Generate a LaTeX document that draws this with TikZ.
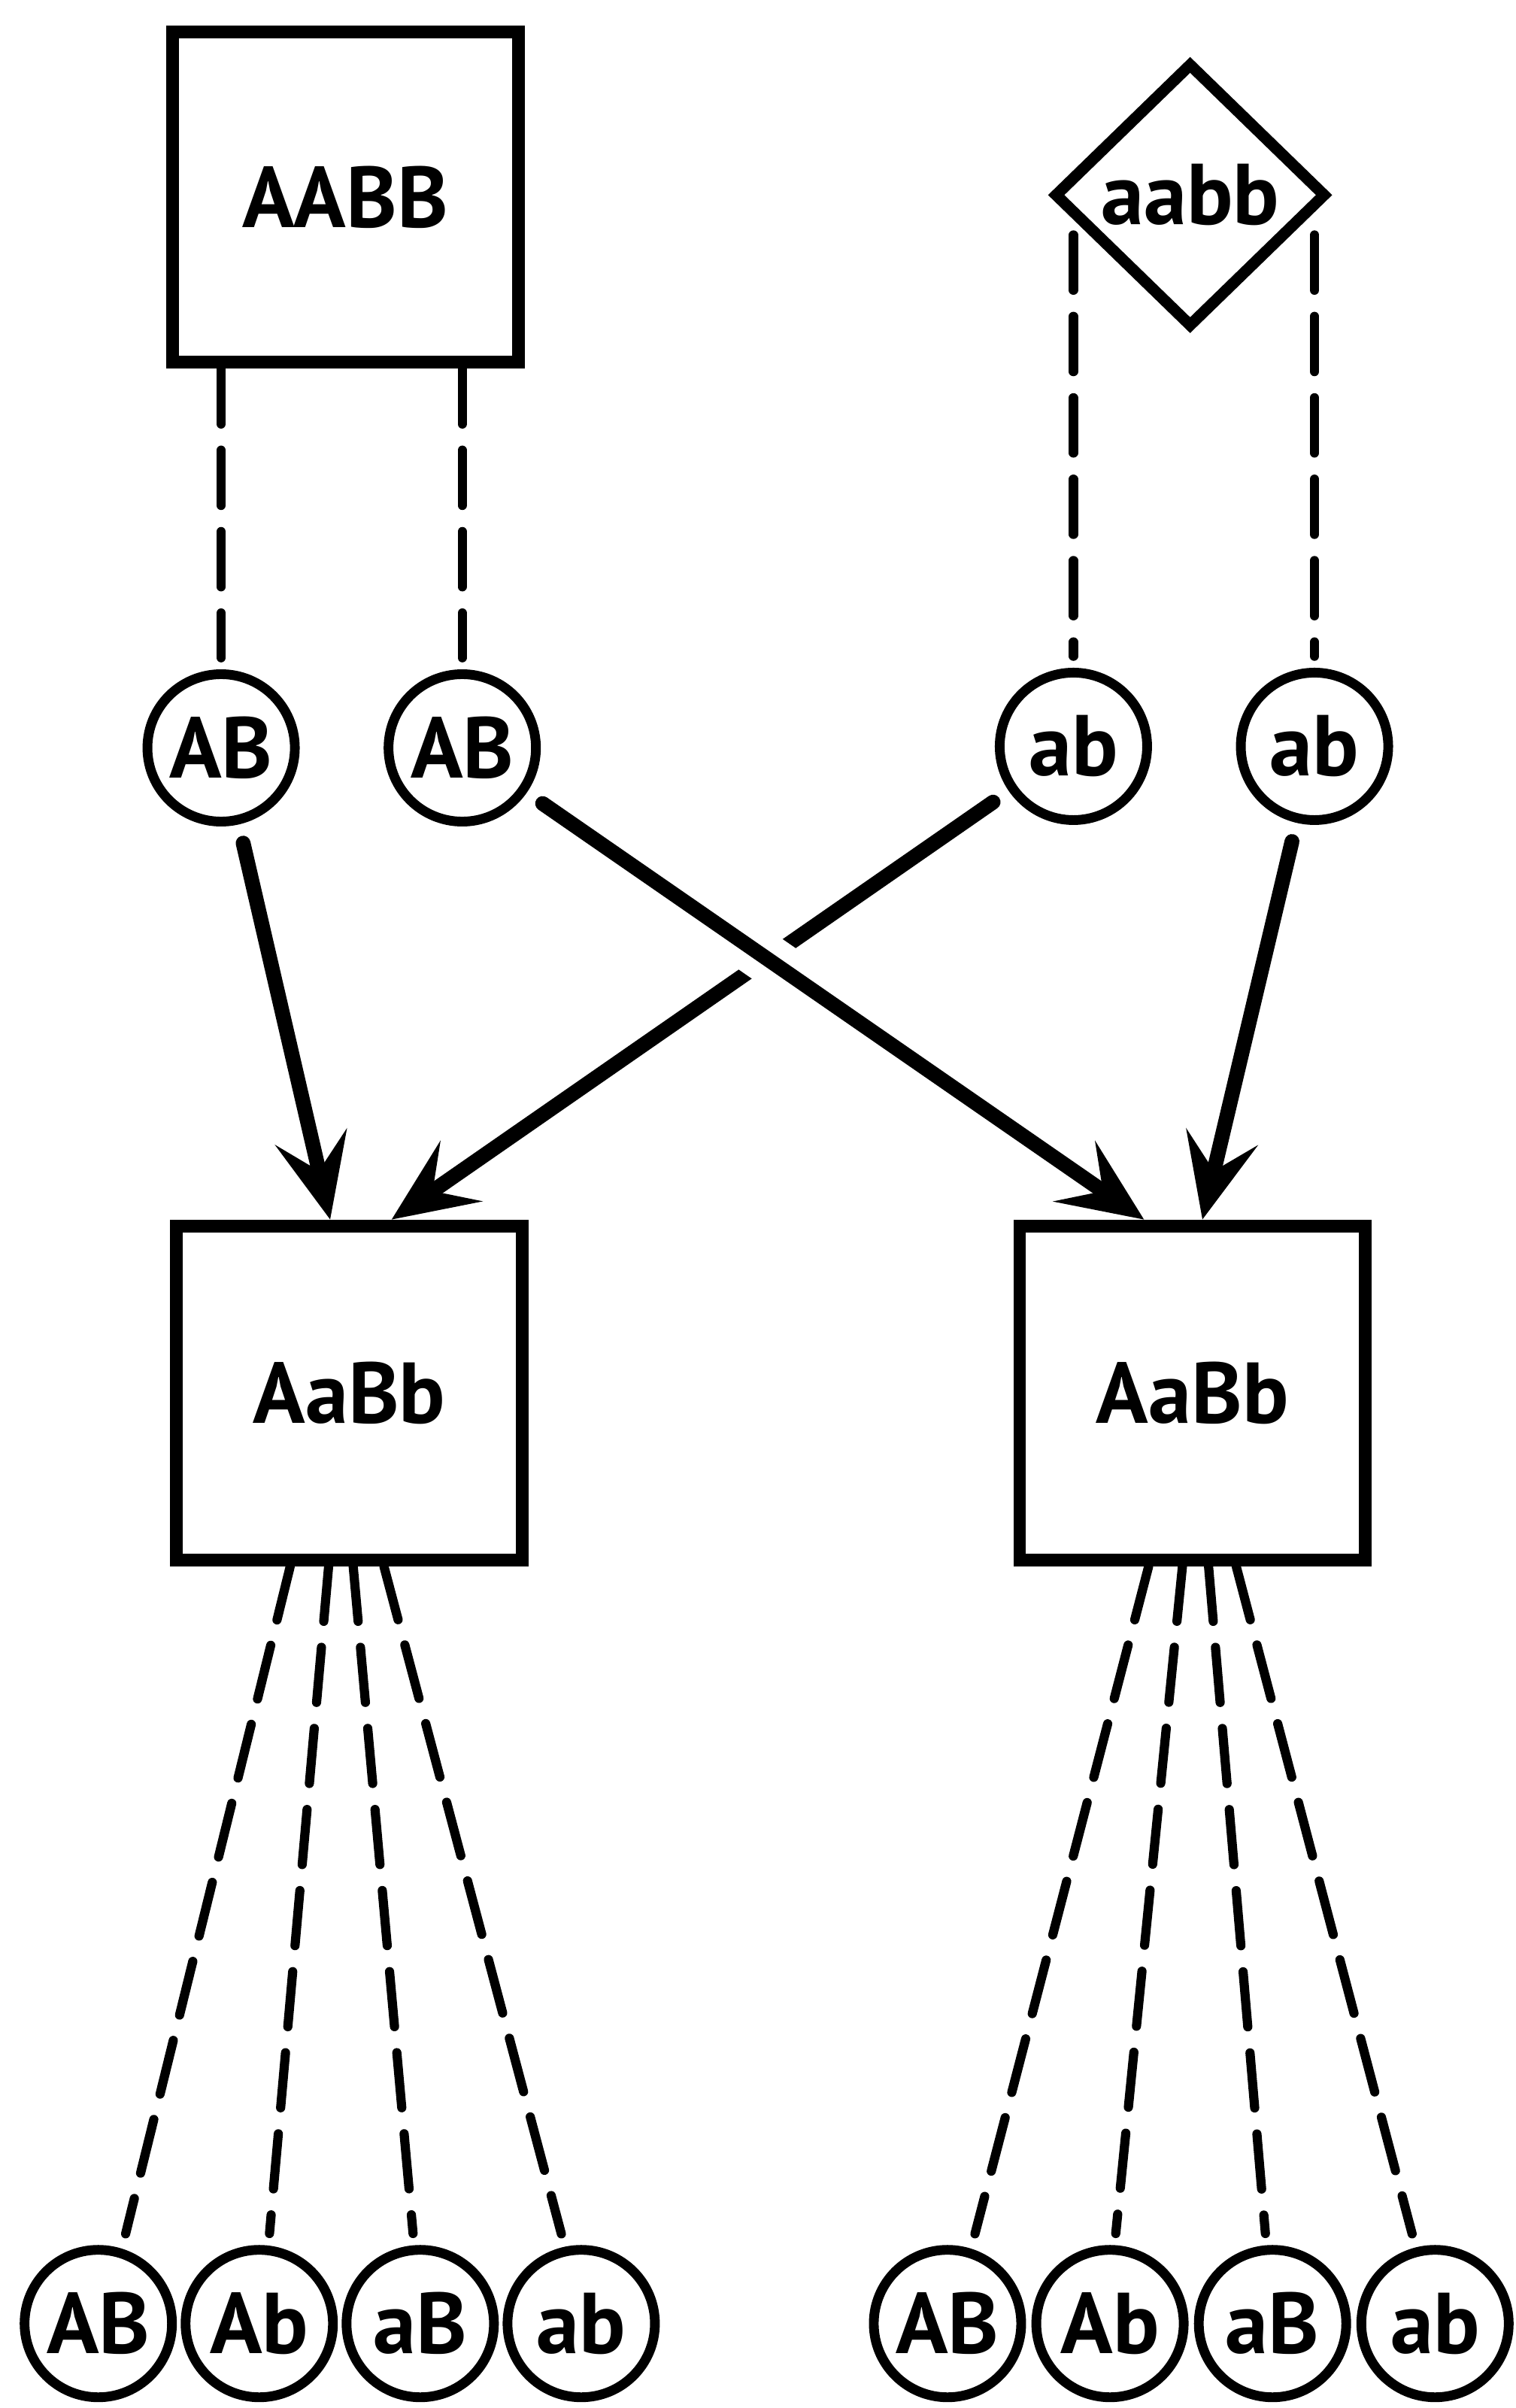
\documentclass[tikz,border=0pt]{standalone}
\usepackage{fontspec}
\setmainfont{PT Sans}
\usetikzlibrary{arrows.meta,positioning,shapes.geometric}

\begin{document}
\begin{tikzpicture}[
    font=\fontsize{32}{34}\selectfont\bfseries,
    parent/.style={draw, line width=4.7pt, minimum width=4.5cm, minimum height=4.3cm},
    hybrid/.style={draw, line width=4.7pt, minimum width=4.5cm, minimum height=4.35cm},
    recessive/.style={draw, diamond, line width=4.2pt, minimum width=3.55cm, minimum height=3.45cm, inner sep=0pt},
    gamete/.style={draw, circle, line width=3.6pt, minimum size=1.92cm, inner sep=0pt},
    link/.style={line width=3.4pt, dash pattern=on 0.72cm off 0.34cm, line cap=round, shorten >=0.15cm},
    arrow/.style={-{Stealth[length=1.1cm, width=0.95cm, inset=0.45cm]}, line width=5.5pt, line cap=round, shorten <=0.25cm}
  ]
    \useasboundingbox[fill=white] (0,0) rectangle (19.74,-31.36);

    \node[parent] (AABB) at (4.5,-2.57) {AABB};
    \node[recessive] (aabb) at (15.5,-2.54) {aabb};

    \node[gamete] (AB1) at (2.88,-9.74) {AB};
    \node[gamete] (AB2) at (6.02,-9.74) {AB};
    \node[gamete] (ab1) at (13.98,-9.72) {ab};
    \node[gamete] (ab2) at (17.12,-9.72) {ab};

    \node[hybrid] (AaBb1) at (4.55,-18.14) {AaBb};
    \node[hybrid] (AaBb2) at (15.53,-18.14) {AaBb};

    \node[gamete] (l1) at (1.28,-30.26) {AB};
    \node[gamete, right=0.05cm of l1] (l2) {Ab};
    \node[gamete, right=0.05cm of l2] (l3) {aB};
    \node[gamete, right=0.05cm of l3] (l4) {ab};
    \node[gamete] (r1) at (12.34,-30.26) {AB};
    \node[gamete, right=0.07cm of r1] (r2) {Ab};
    \node[gamete, right=0.07cm of r2] (r3) {aB};
    \node[gamete, right=0.07cm of r3] (r4) {ab};

    \draw[link] (AABB.south -| AB1) -- (AB1);
    \draw[link] (AABB.south -| AB2) -- (AB2);
    \coordinate (split) at ([yshift=-0.52cm]aabb.center);
    \draw[link] (split -| ab1) -- (ab1);
    \draw[link] (split -| ab2) -- (ab2);

    \draw[arrow] (AB1) -- ([xshift=-0.25cm]AaBb1.north);
    \draw[arrow] (ab1) -- ([xshift=0.55cm]AaBb1.north);
    \draw[white, line width=0.65cm, shorten <=3.3cm, shorten >=5.4cm] (AB2) -- ([xshift=-0.63cm]AaBb2.north);
    \draw[arrow] (AB2) -- ([xshift=-0.63cm]AaBb2.north);
    \draw[arrow] (ab2) -- ([xshift=0.13cm]AaBb2.north);

    \draw[link] ([xshift=-0.77cm]AaBb1.south) -- ([xshift=0.32cm]l1.north);
    \draw[link] ([xshift=-0.27cm]AaBb1.south) -- ([xshift=0.12cm]l2.north);
    \draw[link] ([xshift=0.05cm]AaBb1.south) -- ([xshift=-0.08cm]l3.north);
    \draw[link] ([xshift=0.45cm]AaBb1.south) -- ([xshift=-0.22cm]l4.north);
    \draw[link] ([xshift=-0.57cm]AaBb2.south) -- ([xshift=0.32cm]r1.north);
    \draw[link] ([xshift=-0.13cm]AaBb2.south) -- ([xshift=0.06cm]r2.north);
    \draw[link] ([xshift=0.21cm]AaBb2.south) -- ([xshift=-0.08cm]r3.north);
    \draw[link] ([xshift=0.57cm]AaBb2.south) -- ([xshift=-0.26cm]r4.north);
  \end{tikzpicture}
\end{document}
